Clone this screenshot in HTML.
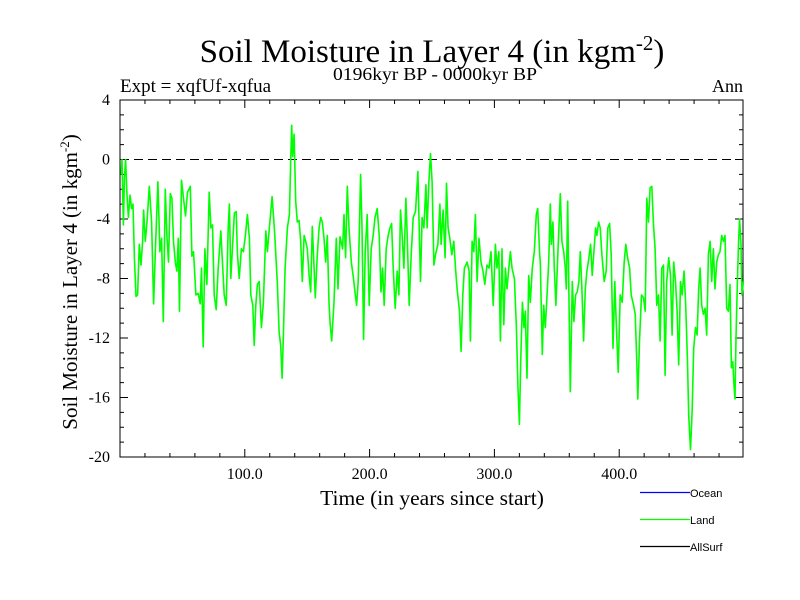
<!DOCTYPE html>
<html><head><meta charset="utf-8"><style>
html,body{margin:0;padding:0;background:#fff;}
svg{display:block;font-family:"Liberation Serif",serif;}
</style></head><body>
<svg id="chart" width="800" height="600" viewBox="0 0 800 600" xmlns="http://www.w3.org/2000/svg">
<text x="432" y="62" font-size="33" text-anchor="middle">Soil Moisture in Layer 4 (in kgm<tspan dy="-12" font-size="21">-2</tspan><tspan dy="12">)</tspan></text>
<text x="435" y="80" font-size="18" text-anchor="middle" textLength="204" lengthAdjust="spacingAndGlyphs">0196kyr BP - 0000kyr BP</text>
<text x="120" y="92" font-size="19">Expt = xqfUf-xqfua</text>
<text x="743" y="92" font-size="18" text-anchor="end">Ann</text>
<text x="432" y="505" font-size="21.5" text-anchor="middle">Time (in years since start)</text>
<text transform="translate(77,282) rotate(-90)" font-size="21" text-anchor="middle">Soil Moisture in Layer 4 (in kgm<tspan dy="-8" font-size="13">-2</tspan><tspan dy="8">)</tspan></text>
<g id="axes"></g>
<g id="series"></g>
<g font-family="Liberation Sans, sans-serif" font-size="11">
<line x1="640" y1="492.5" x2="690" y2="492.5" stroke="#0000ff" stroke-width="1.2"/>
<text x="690" y="497">Ocean</text>
<line x1="640" y1="519.5" x2="690" y2="519.5" stroke="#00ff00" stroke-width="1.2"/>
<text x="690" y="524">Land</text>
<line x1="640" y1="546.5" x2="690" y2="546.5" stroke="#000" stroke-width="1.2"/>
<text x="690" y="551">AllSurf</text>
</g>
</svg>
<script>
const years = [1,1.6,2.7,3.5,4.5,5.6,6.7,8.0,9.3,10.4,11.5,12.8,14.1,15.5,16.8,18.1,18.9,20.3,21.6,23.5,25.3,26.9,28.5,30.4,32.0,33.3,34.7,36.3,37.6,38.9,40.3,41.6,42.9,44.3,45.6,46.7,47.7,49.3,50.9,52.5,54.1,56.3,57.6,58.9,60.8,62.7,64.3,65.3,66.7,68.0,69.6,71.5,72.8,74.1,75.5,77.1,78.7,80.8,82.1,83.5,85.1,86.7,87.7,88.8,90.1,91.7,93.1,94.1,95.5,97.3,98.9,100.5,102.1,103.7,104.8,106.4,107.5,108.8,110.1,111.5,113.3,114.9,116.8,118.1,119.5,120.8,121.9,122.9,124.0,126.1,127.5,128.8,129.9,130.9,132.3,134.1,135.7,136.8,137.6,138.4,139.5,140.8,142.1,143.5,144.8,146.1,147.5,148.8,150.1,151.5,152.8,154.1,155.5,156.5,158.1,159.5,160.8,162.1,163.5,164.8,166.1,167.5,168.3,169.6,171.5,173.3,174.7,176.3,178.4,179.5,180.8,182.1,183.5,185.3,186.9,188.3,189.6,190.9,192.8,193.9,195.2,196.5,198.1,199.7,201.3,202.9,204.3,206.1,207.7,209.1,210.4,211.7,213.3,214.9,216.3,217.6,218.9,220.5,222.1,223.5,224.8,226.1,227.5,229.1,230.1,231.7,233.3,234.9,236.8,238.7,240.0,240.8,242.1,243.5,245.1,246.1,247.5,248.8,250.1,251.5,252.8,254.7,256.3,257.3,258.9,260.5,261.6,262.9,264.3,265.9,267.5,268.8,270.1,272.0,273.3,274.7,276.0,278.1,279.7,280.8,282.1,283.5,284.8,286.1,287.7,289.3,290.9,292.3,294.1,295.7,297.3,299.0,300.8,302.1,303.5,304.8,306.1,307.5,308.8,310.1,311.5,312.8,314.1,316.0,317.6,318.9,320.0,321.1,322.4,323.7,324.8,326.1,327.5,328.8,330.4,332.0,333.6,334.7,336.3,336.8,338.4,339.5,340.8,342.1,343.5,344.8,345.6,346.9,348.0,349.3,350.7,352.8,354.1,355.5,356.8,357.6,358.7,359.7,360.8,362.4,363.7,365.1,366.4,367.7,368.8,370.1,371.5,372.8,374.1,375.7,377.1,378.4,379.7,381.1,382.1,383.5,384.8,386.1,388.0,389.6,390.9,392.3,393.6,395.0,396.5,397.6,399.2,400.8,402.4,404.0,405.3,406.7,408.3,409.6,411.5,412.8,414.1,414.9,416.3,417.9,419.5,420.8,422.1,423.5,424.8,426.1,427.5,428.8,430.1,431.5,432.8,434.1,435.5,436.8,438.1,439.7,441.1,442.4,443.7,445.1,446.4,447.7,449.1,450.4,452.0,453.3,454.7,455.7,457.1,458.4,459.7,461.1,462.4,463.7,464.8,466.1,467.5,468.8,470.1,471.5,472.8,474.1,475.5,476.8,478.1,479.5,480.8,482.1,483.5,484.8,486.1,487.5,488.8,489.9,491.0,492.0,492.8,493.6,494.7,495.7,496.5,497.6,498.4,499.5];
const landValues = [-1.0,0.0,-4.4,-1.3,0.0,-2.4,-3.9,-2.4,-3.3,-3.0,-6.6,-9.2,-9.1,-5.7,-7.1,-5.5,-3.4,-5.5,-4.2,-1.8,-4.2,-9.7,-5.7,-1.5,-6.2,-5.3,-10.9,-2.0,-5.1,-6.9,-2.3,-2.6,-5.5,-6.9,-7.5,-5.3,-10.2,-1.4,-2.6,-3.8,-2.2,-1.8,-6.5,-6.2,-9.1,-9.0,-9.7,-7.3,-12.6,-6.0,-8.4,-2.2,-4.6,-4.4,-9.1,-10.1,-7.3,-4.8,-7.0,-9.1,-9.8,-4.6,-3.0,-8.0,-6.0,-3.6,-3.5,-6.3,-8.0,-6.0,-6.2,-5.1,-3.7,-5.3,-9.1,-9.8,-12.5,-9.8,-8.4,-8.2,-11.3,-9.6,-4.8,-6.2,-4.8,-3.5,-2.5,-3.7,-5.1,-8.4,-11.6,-12.5,-14.7,-11.8,-7.3,-4.6,-3.7,-0.1,2.3,0.2,1.7,-2.8,-4.2,-4.1,-5.5,-8.2,-5.1,-5.5,-6.0,-7.8,-8.9,-4.5,-7.3,-9.3,-6.4,-4.6,-3.9,-4.2,-5.3,-6.9,-5.1,-9.6,-10.9,-12.2,-9.6,-5.3,-8.7,-5.2,-6.0,-3.7,-6.6,-1.8,-4.6,-6.9,-7.9,-8.9,-9.8,-8.2,-1.0,-4.6,-12.1,-6.2,-3.7,-9.8,-6.0,-5.1,-3.9,-3.3,-5.1,-8.9,-7.3,-9.8,-6.0,-5.1,-4.6,-4.3,-7.3,-10.0,-7.5,-9.1,-3.4,-5.1,-7.3,-2.6,-5.1,-9.8,-6.4,-3.9,-3.5,-0.8,-5.5,-8.2,-3.9,-4.6,-1.7,-4.6,-1.5,0.4,-1.5,-7.1,-6.4,-5.7,-3.0,-5.7,-3.4,-6.6,-1.6,-4.6,-5.3,-6.4,-5.5,-7.3,-8.7,-10.2,-12.9,-9.1,-7.3,-6.9,-7.5,-12.2,-5.5,-6.2,-3.7,-8.2,-5.3,-6.9,-7.5,-8.4,-7.1,-7.3,-6.2,-9.8,-5.7,-7.3,-6.2,-12.2,-6.0,-11.1,-7.3,-8.7,-7.3,-6.2,-7.3,-8.0,-11.3,-15.4,-17.8,-13.6,-9.6,-11.3,-10.2,-14.7,-7.8,-9.6,-7.3,-6.2,-3.7,-3.3,-6.4,-6.9,-13.1,-9.8,-11.3,-9.3,-6.9,-3.0,-5.7,-4.2,-7.3,-9.8,-6.6,-2.3,-5.5,-6.2,-7.3,-8.7,-2.8,-9.1,-15.6,-8.2,-10.9,-9.1,-8.9,-8.2,-6.2,-8.7,-12.2,-8.7,-7.5,-6.6,-5.7,-7.8,-6.2,-4.6,-5.1,-4.2,-4.6,-6.4,-8.2,-7.5,-4.6,-4.3,-6.4,-12.7,-8.2,-10.9,-14.3,-9.1,-9.6,-6.9,-5.7,-6.6,-7.3,-9.1,-9.8,-10.4,-13.6,-16.1,-12.2,-9.1,-9.3,-10.2,-2.6,-4.2,-1.9,-1.8,-4.4,-6.0,-9.8,-9.1,-12.2,-7.3,-7.1,-14.5,-8.2,-6.6,-7.8,-11.8,-6.9,-8.2,-10.2,-13.8,-8.2,-9.1,-7.5,-9.8,-13.6,-17.2,-19.5,-17.0,-12.7,-11.3,-11.8,-8.7,-7.3,-9.8,-10.4,-10.0,-11.8,-6.4,-5.5,-8.2,-6.0,-8.7,-6.9,-6.4,-6.2,-5.1,-5.5,-5.1,-10.0,-10.2,-8.4,-14.0,-13.6,-15.2,-16.1,-12.0,-8.2,-5.5,-4.0,-5.7,-9.1,-8.2];
const yTickValues = [4,0,-4,-8,-12,-16,-20];
const xTickLabels = ["100.0","200.0","300.0","400.0"];
const xTickValues = [100,200,300,400];

const X0=120, X1=743, Y0=100, Y1=457, XMIN=0, XMAX=499.2, YMIN=-20, YMAX=4;
function xs(v){return X0+(v-XMIN)/(XMAX-XMIN)*(X1-X0);}
function ys(v){return Y1-(v-YMIN)/(YMAX-YMIN)*(Y1-Y0);}
const NS="http://www.w3.org/2000/svg";
function mk(tag,attrs,parent){const e=document.createElementNS(NS,tag);for(const k in attrs)e.setAttribute(k,attrs[k]);parent.appendChild(e);return e;}
const axes=document.getElementById('axes');
const frame=mk('rect',{x:X0,y:Y0,width:X1-X0,height:Y1-Y0,fill:'none',stroke:'#000','stroke-width':1},axes);


const zero=mk('line',{x1:X0,x2:X1,y1:ys(0),y2:ys(0),stroke:'#000','stroke-width':1,'stroke-dasharray':'9,5'},axes);


for(let v=20;v<XMAX;v+=20){
  const major=(v%100===0), L=major?8:4, x=xs(v);
  const t1=mk('line',{x1:x,x2:x,y1:Y1,y2:Y1-L,stroke:'#000'},axes);
  
  
  const t2=mk('line',{x1:x,x2:x,y1:Y0,y2:Y0+L,stroke:'#000'},axes);
  
  
}
xTickValues.forEach((v,i)=>{
  const t=mk('text',{x:xs(v),y:479,'font-size':16,'text-anchor':'middle'},axes);
  t.textContent=xTickLabels[i];
  
  
});
for(let v=YMIN+1;v<YMAX;v++){
  const major=(v%4===0), L=major?8:4, y=ys(v);
  const t1=mk('line',{x1:X0,x2:X0+L,y1:y,y2:y,stroke:'#000'},axes);
  
  
  const t2=mk('line',{x1:X1,x2:X1-L,y1:y,y2:y,stroke:'#000'},axes);
  
  
}
yTickValues.forEach(v=>{
  const t=mk('text',{x:110,y:ys(v)+5,'font-size':16,'text-anchor':'end'},axes);
  t.textContent=String(v);
  
  
});
const series=document.getElementById('series');
const pts=years.map((yr,i)=>xs(yr).toFixed(1)+','+ys(landValues[i]).toFixed(1)).join(' ');
const line=mk('polyline',{points:pts,fill:'none',stroke:'#00ff00','stroke-width':1.6,'stroke-linejoin':'round'},series);


</script>
</body></html>
